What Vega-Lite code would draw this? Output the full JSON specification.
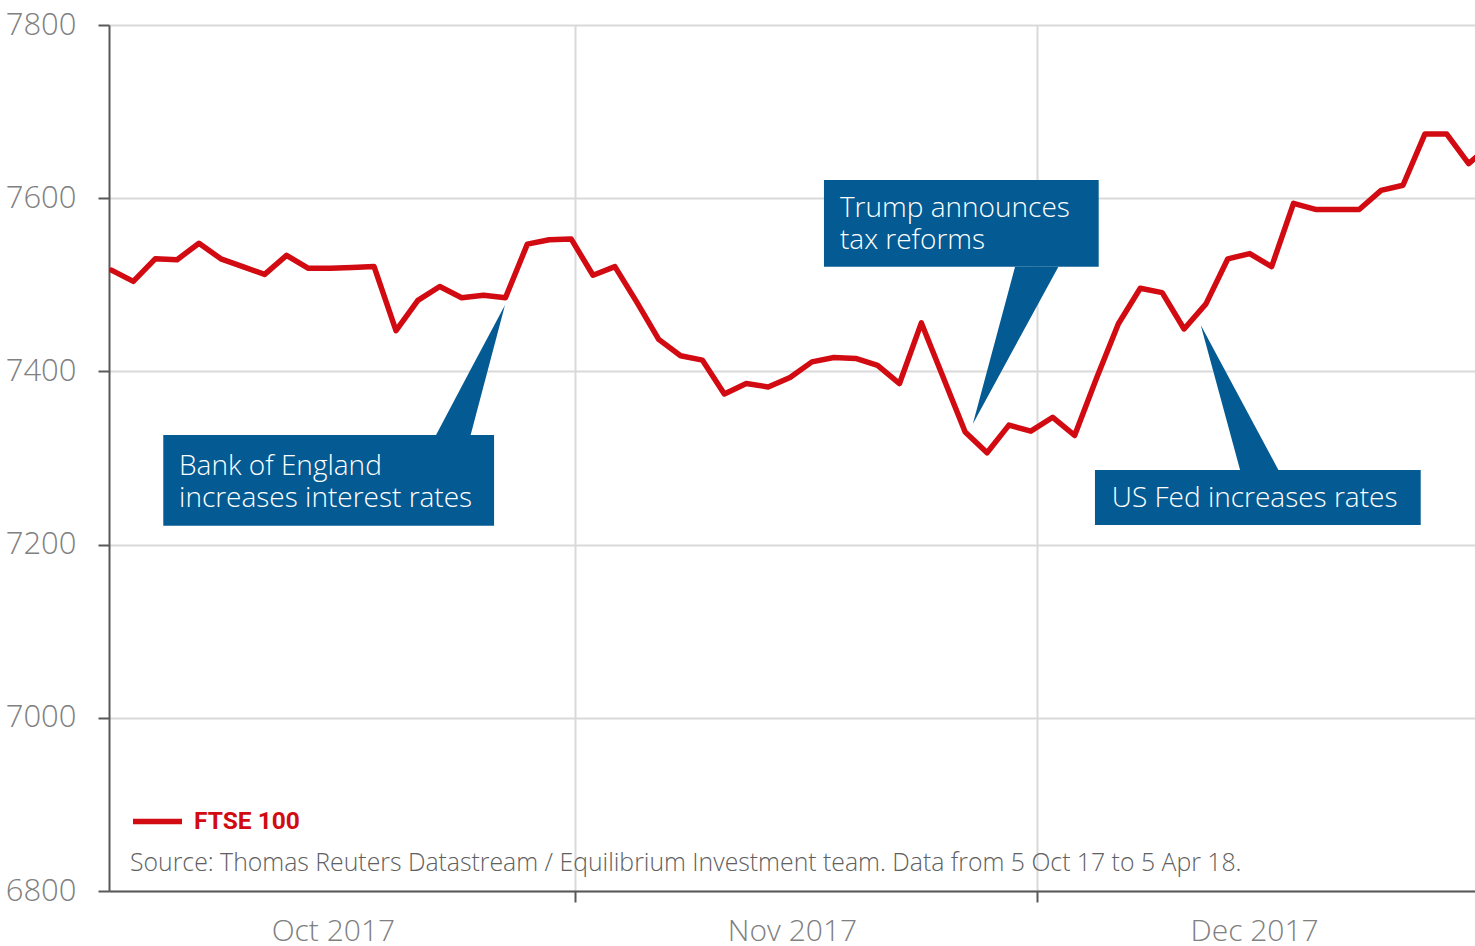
{
  "$schema": "https://vega.github.io/schema/vega-lite/v6.json",
  "width": 1366,
  "height": 866,
  "autosize": {"type": "none"},
  "padding": {"left": 109, "top": 25, "right": 0, "bottom": 55},
  "background": "white",
  "config": {
    "view": {"stroke": null},
    "font": "Open Sans"
  },
  "datasets": {
    "ftse": [
      {"date": "2017-10-06", "close": 7517},
      {"date": "2017-10-09", "close": 7504},
      {"date": "2017-10-10", "close": 7530},
      {"date": "2017-10-11", "close": 7529},
      {"date": "2017-10-12", "close": 7548},
      {"date": "2017-10-13", "close": 7530},
      {"date": "2017-10-16", "close": 7521},
      {"date": "2017-10-17", "close": 7512},
      {"date": "2017-10-18", "close": 7534},
      {"date": "2017-10-19", "close": 7519},
      {"date": "2017-10-20", "close": 7519},
      {"date": "2017-10-23", "close": 7520},
      {"date": "2017-10-24", "close": 7521},
      {"date": "2017-10-25", "close": 7447},
      {"date": "2017-10-26", "close": 7482},
      {"date": "2017-10-27", "close": 7498},
      {"date": "2017-10-30", "close": 7485},
      {"date": "2017-10-31", "close": 7488},
      {"date": "2017-11-01", "close": 7485},
      {"date": "2017-11-02", "close": 7547},
      {"date": "2017-11-03", "close": 7552},
      {"date": "2017-11-06", "close": 7553},
      {"date": "2017-11-07", "close": 7511},
      {"date": "2017-11-08", "close": 7521},
      {"date": "2017-11-09", "close": 7480},
      {"date": "2017-11-10", "close": 7437},
      {"date": "2017-11-13", "close": 7418},
      {"date": "2017-11-14", "close": 7413},
      {"date": "2017-11-15", "close": 7374},
      {"date": "2017-11-16", "close": 7386},
      {"date": "2017-11-17", "close": 7382},
      {"date": "2017-11-20", "close": 7393},
      {"date": "2017-11-21", "close": 7411},
      {"date": "2017-11-22", "close": 7416},
      {"date": "2017-11-23", "close": 7415},
      {"date": "2017-11-24", "close": 7407},
      {"date": "2017-11-27", "close": 7386},
      {"date": "2017-11-28", "close": 7456},
      {"date": "2017-11-29", "close": 7393},
      {"date": "2017-11-30", "close": 7330},
      {"date": "2017-12-01", "close": 7306},
      {"date": "2017-12-04", "close": 7338},
      {"date": "2017-12-05", "close": 7331},
      {"date": "2017-12-06", "close": 7347},
      {"date": "2017-12-07", "close": 7326},
      {"date": "2017-12-08", "close": 7392},
      {"date": "2017-12-11", "close": 7455},
      {"date": "2017-12-12", "close": 7496},
      {"date": "2017-12-13", "close": 7491},
      {"date": "2017-12-14", "close": 7449},
      {"date": "2017-12-15", "close": 7478},
      {"date": "2017-12-18", "close": 7530},
      {"date": "2017-12-19", "close": 7536},
      {"date": "2017-12-20", "close": 7521},
      {"date": "2017-12-21", "close": 7594},
      {"date": "2017-12-22", "close": 7587},
      {"date": "2017-12-25", "close": 7587},
      {"date": "2017-12-26", "close": 7587},
      {"date": "2017-12-27", "close": 7609},
      {"date": "2017-12-28", "close": 7615},
      {"date": "2017-12-29", "close": 7674},
      {"date": "2018-01-01", "close": 7674},
      {"date": "2018-01-02", "close": 7640},
      {"date": "2018-01-03", "close": 7662}
    ],
    "pointers": [
      {"event": "boe", "n": 15.83, "top": 7326.6, "bottom": 7326.6},
      {"event": "boe", "n": 17.41, "top": 7402.1, "bottom": 7326.6},
      {"event": "boe", "n": 18.98, "top": 7476.7, "bottom": 7476.7},
      {"event": "trump", "n": 40.35, "top": 7339.3, "bottom": 7339.3},
      {"event": "trump", "n": 42.28, "top": 7520.9, "bottom": 7429.0},
      {"event": "trump", "n": 44.26, "top": 7520.9, "bottom": 7520.9},
      {"event": "fed", "n": 50.76, "top": 7453.6, "bottom": 7453.6},
      {"event": "fed", "n": 52.56, "top": 7368.8, "bottom": 7286.1},
      {"event": "fed", "n": 54.31, "top": 7286.1, "bottom": 7286.1}
    ],
    "one": [{}]
  },
  "layer": [
    {
      "data": {"name": "ftse"},
      "transform": [
        {"window": [{"op": "row_number", "as": "n"}], "sort": [{"field": "date", "order": "ascending"}]}
      ],
      "mark": {"type": "line", "strokeWidth": 5.5, "strokeJoin": "round", "strokeCap": "round", "clip": true},
      "encoding": {
        "x": {
          "field": "n", "type": "quantitative",
          "scale": {"domain": [0.89, 63.29], "nice": false, "zero": false},
          "axis": {
            "title": null,
            "values": [11.12, 22.18, 32.09, 43.28, 53.2],
            "labelExpr": "datum.value < 15 ? 'Oct 2017' : datum.value < 25 ? '' : datum.value < 40 ? 'Nov 2017' : datum.value < 50 ? '' : 'Dec 2017'",
            "grid": true,
            "gridColor": "#d9d9d9",
            "gridWidth": 2,
            "gridOpacity": {"condition": {"test": "(datum.value > 20 && datum.value < 25) || (datum.value > 40 && datum.value < 45)", "value": 1}, "value": 0},
            "ticks": true,
            "tickSize": 11,
            "tickWidth": 2,
            "tickColor": "#595959",
            "tickOpacity": {"condition": {"test": "(datum.value > 20 && datum.value < 25) || (datum.value > 40 && datum.value < 45)", "value": 1}, "value": 0},
            "domainColor": "#595959",
            "domainWidth": 2,
            "labelFont": "Open Sans",
            "labelFontWeight": 300,
            "labelFontSize": 30,
            "labelColor": "#808080",
            "labelBaseline": "alphabetic",
            "labelPadding": 38,
            "labelFlush": false,
            "labelOverlap": false
          }
        },
        "y": {
          "field": "close", "type": "quantitative",
          "scale": {"domain": [6800, 7800], "nice": false, "zero": false},
          "axis": {
            "title": null,
            "values": [6800, 7000, 7200, 7400, 7600, 7800],
            "format": "d",
            "grid": true,
            "gridColor": "#d9d9d9",
            "gridWidth": 2,
            "tickSize": 11,
            "tickWidth": 2,
            "tickColor": "#595959",
            "domainColor": "#595959",
            "domainWidth": 2,
            "labelFont": "Open Sans",
            "labelFontWeight": 300,
            "labelFontSize": 31,
            "labelColor": "#808080",
            "labelPadding": 22,
            "labelFlush": false,
            "labelOverlap": false
          }
        },
        "color": {
          "datum": "FTSE 100",
          "scale": {"range": ["#d20a11"]},
          "legend": {
            "title": null,
            "orient": "none",
            "legendX": 21,
            "legendY": 769,
            "symbolType": "stroke",
            "symbolSize": 2400,
            "symbolStrokeWidth": 5.5,
            "labelOffset": 9,
            "labelFont": "Roboto",
            "labelFontWeight": "bold",
            "labelFontSize": 24.5,
            "labelColor": "#d20a11",
            "padding": 0
          }
        }
      }
    },
    {
      "data": {"name": "pointers"},
      "mark": {"type": "area", "color": "#045a92", "orient": "vertical", "interpolate": "linear"},
      "encoding": {
        "x": {"field": "n", "type": "quantitative"},
        "y": {"field": "top", "type": "quantitative"},
        "y2": {"field": "bottom"},
        "detail": {"field": "event"}
      }
    },
    {
      "data": {"name": "one"},
      "mark": {"type": "rect", "color": "#045a92"},
      "encoding": {"x": {"datum": 3.37}, "x2": {"datum": 18.48}, "y": {"datum": 7326.6}, "y2": {"datum": 7221.8}}
    },
    {
      "data": {"name": "one"},
      "mark": {"type": "rect", "color": "#045a92"},
      "encoding": {"x": {"datum": 33.55}, "x2": {"datum": 46.10}, "y": {"datum": 7621.0}, "y2": {"datum": 7520.9}}
    },
    {
      "data": {"name": "one"},
      "mark": {"type": "rect", "color": "#045a92"},
      "encoding": {"x": {"datum": 45.93}, "x2": {"datum": 60.81}, "y": {"datum": 7286.1}, "y2": {"datum": 7222.6}}
    },
    {
      "data": {"name": "one"},
      "mark": {"type": "text", "text": ["Bank of England", "increases interest rates"], "align": "left", "baseline": "alphabetic", "fontSize": 28, "fontWeight": 300, "lineHeight": 32, "color": "white", "font": "Open Sans"},
      "encoding": {"x": {"datum": 4.09}, "y": {"datum": 7280.4}}
    },
    {
      "data": {"name": "one"},
      "mark": {"type": "text", "text": ["Trump announces", "tax reforms"], "align": "left", "baseline": "alphabetic", "fontSize": 28, "fontWeight": 300, "lineHeight": 32, "color": "white", "font": "Open Sans"},
      "encoding": {"x": {"datum": 34.28}, "y": {"datum": 7578.6}}
    },
    {
      "data": {"name": "one"},
      "mark": {"type": "text", "text": "US Fed increases rates", "align": "left", "baseline": "alphabetic", "fontSize": 28, "fontWeight": 300, "color": "white", "font": "Open Sans"},
      "encoding": {"x": {"datum": 46.70}, "y": {"datum": 7243.8}}
    },
    {
      "data": {"name": "one"},
      "mark": {"type": "text", "text": "Source: Thomas Reuters Datastream / Equilibrium Investment team. Data from 5 Oct 17 to 5 Apr 18.", "align": "left", "baseline": "alphabetic", "fontSize": 24.8, "fontWeight": 300, "color": "#606060", "font": "Open Sans"},
      "encoding": {"x": {"datum": 1.85}, "y": {"datum": 6823}}
    }
  ]
}
